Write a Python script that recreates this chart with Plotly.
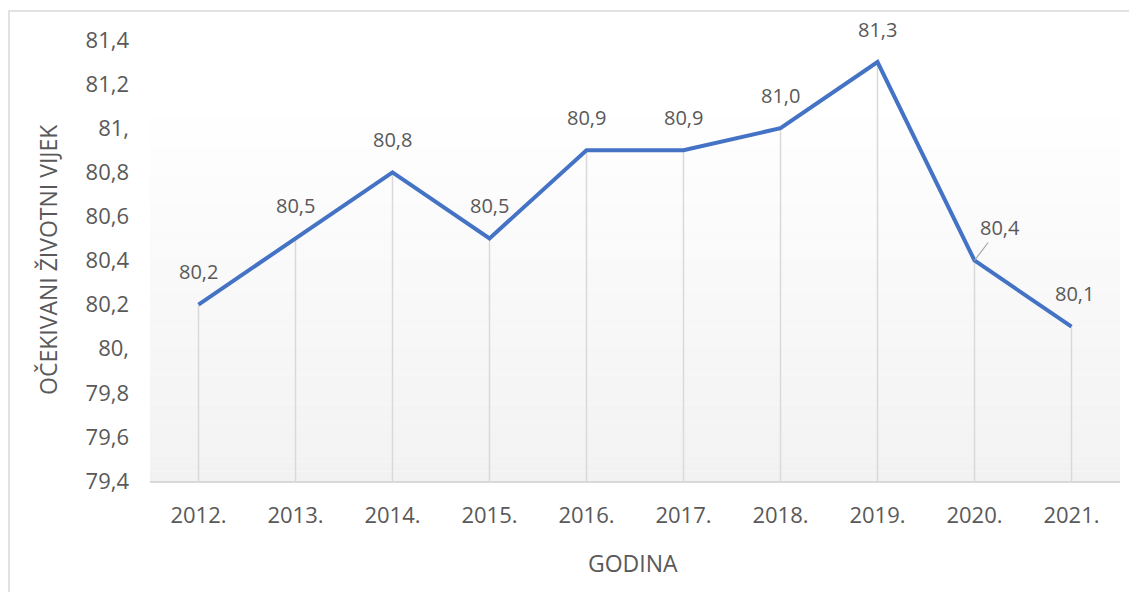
import plotly.graph_objects as go

years = ["2012.", "2013.", "2014.", "2015.", "2016.", "2017.", "2018.", "2019.", "2020.", "2021."]
values = [80.2, 80.5, 80.8, 80.5, 80.9, 80.9, 81.0, 81.3, 80.4, 80.1]
y_ticks = [79.4, 79.6, 79.8, 80.0, 80.2, 80.4, 80.6, 80.8, 81.0, 81.2, 81.4]
y_ticktext = ["79,4", "79,6", "79,8", "80,", "80,2", "80,4", "80,6", "80,8", "81,", "81,2", "81,4"]
y_min, y_max = 79.4, 81.4

FONT = "Open Sans"
TXT = "#595959"

fig = go.Figure()
fig.add_trace(go.Scatter(
    x=years, y=values, mode="lines",
    line=dict(color="#4472C4", width=4),
    error_y=dict(type="data", symmetric=False, array=[0] * len(values),
                 arrayminus=[v - y_min for v in values],
                 color="#d9d9d9", thickness=1.5, width=0),
    hoverinfo="skip", showlegend=False,
))

# gradient background of plot area
n = 40
top = 0.8685
for i in range(n):
    t = i / (n - 1)
    c = int(round(242 + (255 - 242) * t))
    fig.add_shape(type="rect", xref="paper", yref="paper",
                  x0=0, x1=1, y0=top * i / n, y1=top * (i + 1) / n,
                  fillcolor=f"rgb({c},{c},{c})", line=dict(width=0), layer="below")

# outer chart border
fig.add_shape(type="rect", xref="paper", yref="paper",
              x0=(9 - 150) / 970, x1=1.2, y0=-0.5, y1=(481 - 11) / 441,
              line=dict(color="#d9d9d9", width=1.5), fillcolor="rgba(0,0,0,0)", layer="below")

for i, (yr, v) in enumerate(zip(years, values)):
    label = f"{v:.1f}".replace(".", ",")
    if yr == "2020.":
        fig.add_annotation(x=i, y=v, xref="x", yref="y", text=label, showarrow=True,
                           arrowhead=0, arrowcolor="#a6a6a6", arrowwidth=1.2,
                           ax=25, ay=-33, standoff=0,
                           font=dict(family=FONT, size=20, color=TXT))
    else:
        fig.add_annotation(x=i, y=v, xref="x", yref="y", text=label, showarrow=False,
                           yshift=33, xshift=3 if yr == "2021." else 0,
                           font=dict(family=FONT, size=20, color=TXT))

fig.add_annotation(xref="paper", yref="paper", x=(48 - 150) / 970, y=(481 - 260) / 441,
                   xanchor="center", yanchor="middle",
                   text="OČEKIVANI ŽIVOTNI VIJEK", textangle=-90, showarrow=False,
                   font=dict(family=FONT, size=23, color=TXT))
fig.add_annotation(xref="paper", yref="paper", x=(633 - 150) / 970, y=(481 - 563) / 441,
                   xanchor="center", yanchor="middle",
                   text="GODINA", showarrow=False,
                   font=dict(family=FONT, size=23, color=TXT))

fig.update_layout(
    width=1129, height=584,
    margin=dict(l=142, r=17, t=32, b=111),
    paper_bgcolor="white", plot_bgcolor="rgba(0,0,0,0)",
    font=dict(family=FONT, size=22, color=TXT),
)
fig.update_xaxes(type="category", range=[-0.5, 9.5], showgrid=False,
                 showline=True, linecolor="#d9d9d9", linewidth=1.5,
                 ticks="", ticklabelstandoff=14,
                 tickfont=dict(family=FONT, size=22, color=TXT))
fig.update_yaxes(range=[y_min, y_max], tickvals=y_ticks, ticktext=y_ticktext,
                 showgrid=False, zeroline=False, showline=False, ticks="",
                 ticklabelstandoff=20,
                 tickfont=dict(family=FONT, size=22, color=TXT))

fig.write_html("out.html")
